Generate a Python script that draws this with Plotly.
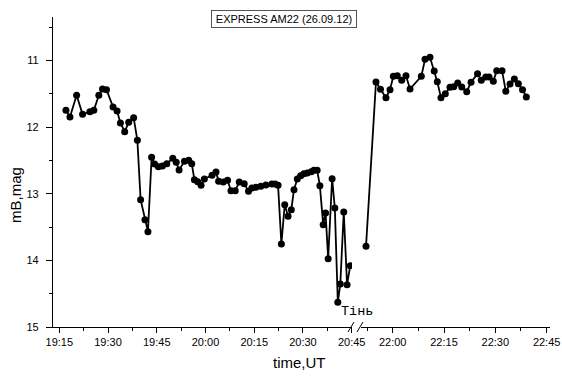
import plotly.graph_objects as go

DAY = "2012-09-26 "

# Before the break (UT)
t_before = ["19:17:03", "19:18:17", "19:20:20", "19:22:10", "19:24:25", "19:25:38", "19:27:10",
            "19:28:18", "19:29:32", "19:31:33", "19:32:47", "19:33:49", "19:35:08", "19:36:22",
            "19:37:53", "19:39:02", "19:40:02", "19:41:22", "19:42:17", "19:43:25", "19:44:20",
            "19:45:30", "19:46:45", "19:48:05", "19:49:56", "19:50:59", "19:51:52",
            "19:53:31", "19:54:50", "19:55:46", "19:56:35", "19:57:36", "19:58:38", "19:59:39",
            "20:02:01", "20:03:14", "20:04:02", "20:05:28", "20:06:47", "20:07:50", "20:09:09",
            "20:10:23", "20:11:55", "20:13:14", "20:14:16", "20:15:30", "20:17:02", "20:18:34",
            "20:20:24", "20:21:25", "20:22:20", "20:23:21", "20:24:23", "20:25:24", "20:26:24",
            "20:27:14", "20:28:15", "20:29:17", "20:30:18", "20:31:19", "20:32:32", "20:33:22",
            "20:34:22", "20:35:12", "20:36:13", "20:36:57", "20:37:45", "20:38:58", "20:39:48",
            "20:40:43", "20:41:29", "20:42:33", "20:43:34", "20:44:33"]
m_before = [11.75, 11.85, 11.525, 11.81, 11.77, 11.75, 11.525,
            11.43, 11.44, 11.70, 11.76, 11.94, 12.07, 11.93,
            11.86, 12.20, 13.09, 13.39, 13.57, 12.455, 12.555,
            12.595, 12.585, 12.55, 12.47, 12.53, 12.645,
            12.515, 12.50, 12.55, 12.79, 12.82, 12.875, 12.78,
            12.725, 12.675, 12.815, 12.825, 12.80, 12.955, 12.955,
            12.825, 12.85, 12.965, 12.915, 12.905, 12.89, 12.87,
            12.855, 12.855, 12.875, 13.755, 13.165, 13.34, 13.24,
            12.94, 12.78, 12.73, 12.70, 12.69, 12.67, 12.65,
            12.65, 12.88, 13.465, 13.29, 13.975, 12.775, 13.215,
            14.63, 14.355, 13.275, 14.365, 14.08]

# After the break (UT)
t_after = ["21:52:12", "21:55:07", "21:56:26", "21:58:02", "21:59:13", "22:00:11", "22:01:21",
           "22:02:38", "22:03:53", "22:05:04", "22:08:22", "22:09:27", "22:10:54", "22:12:08",
           "22:13:02", "22:14:07", "22:15:23", "22:16:45", "22:17:50", "22:19:00", "22:20:11",
           "22:21:38", "22:22:54", "22:24:48", "22:25:54", "22:27:13", "22:28:10", "22:29:25",
           "22:30:25", "22:31:58", "22:33:04", "22:34:18", "22:35:34", "22:36:44", "22:37:57",
           "22:39:04"]
m_after = [13.79, 11.324, 11.435, 11.56, 11.44, 11.24, 11.23,
           11.30, 11.23, 11.43, 11.24, 10.985, 10.955, 11.16,
           11.32, 11.56, 11.50, 11.405, 11.395, 11.34, 11.40,
           11.47, 11.33, 11.20, 11.30, 11.25, 11.25, 11.315,
           11.155, 11.155, 11.465, 11.355, 11.28, 11.35, 11.44,
           11.55]

title_text = "EXPRESS AM22 (26.09.12)"
shadow_text = "Тінь"
x_title = "time,UT"
y_title = "mB,mag"

FONT = "Liberation Sans, Arial, sans-serif"

line_style = dict(color="black", width=1.8)
marker_style = dict(color="black", size=7)

fig = go.Figure()
fig.add_trace(go.Scatter(x=[DAY + t for t in t_before], y=m_before, mode="lines+markers",
                         line=line_style, marker=marker_style, xaxis="x", yaxis="y",
                         showlegend=False))
fig.add_trace(go.Scatter(x=[DAY + t for t in t_after], y=m_after, mode="lines+markers",
                         line=line_style, marker=marker_style, xaxis="x2", yaxis="y",
                         showlegend=False))

common_x = dict(
    type="date", tickformat="%H:%M", dtick=900000, tick0=DAY + "19:15",
    ticks="outside", ticklen=5, tickwidth=1, tickcolor="black",
    minor=dict(dtick=450000, tick0=DAY + "19:15", ticks="outside", ticklen=3,
               tickcolor="black", tickwidth=1),
    showline=True, linecolor="black", linewidth=1.2, showgrid=False, zeroline=False,
    tickfont=dict(family=FONT, size=11, color="black"), anchor="y", automargin=False,
)

fig.update_layout(
    width=562, height=376,
    margin=dict(l=53, r=12, t=17, b=49, autoexpand=False),
    paper_bgcolor="white", plot_bgcolor="white",
    font=dict(family=FONT, color="black"),
    xaxis=dict(common_x, domain=[0, 0.6016], range=[DAY + "19:13:04", DAY + "20:45:05"]),
    xaxis2=dict(common_x, domain=[0.6197, 1], range=[DAY + "21:50:44", DAY + "22:45:59"]),
    yaxis=dict(range=[15, 10.35], dtick=1, tick0=11, ticks="outside", ticklen=6,
               tickcolor="black", tickwidth=1,
               minor=dict(dtick=0.5, ticks="outside", ticklen=3, tickcolor="black"),
               showline=True, linecolor="black", linewidth=1.2, showgrid=False,
               zeroline=False, anchor="x", ticklabelstandoff=5, automargin=False,
               tickfont=dict(family=FONT, size=11, color="black")),
)

# axis titles
fig.add_annotation(text=x_title, xref="paper", yref="paper", x=0.495, y=-0.1161,
                   xanchor="center", yanchor="middle", showarrow=False,
                   font=dict(family=FONT, size=15, color="black"))
fig.add_annotation(text=y_title, xref="paper", yref="paper", x=-0.0765, y=0.4258,
                   xanchor="center", yanchor="middle", showarrow=False, textangle=-90,
                   font=dict(family=FONT, size=15, color="black"))

# boxed title
fig.add_annotation(text=title_text, xref="paper", yref="paper", x=0.4638, y=0.9935,
                   xanchor="center", yanchor="middle", showarrow=False,
                   font=dict(family=FONT, size=11, color="black"),
                   bordercolor="#555555", borderwidth=1, borderpad=2, bgcolor="white",
                   width=140)

# shadow label
fig.add_annotation(text=shadow_text, xref="paper", yref="paper", x=0.6117, y=0.0484,
                   xanchor="center", yanchor="middle", showarrow=False,
                   font=dict(family="Liberation Mono, Courier New, monospace", size=13.5,
                             color="black"))

# axis-break marks
for x0, x1 in [(0.5936, 0.6056), (0.6117, 0.6237)]:
    fig.add_shape(type="line", xref="paper", yref="paper", x0=x0, y0=-0.0161, x1=x1,
                  y1=0.0161, line=dict(color="black", width=1))

# remove the browser's default page margin so the figure sits at the window origin
fig.write_html("out.html", config={"displayModeBar": False},
               post_script="document.body.style.margin='0px';")
